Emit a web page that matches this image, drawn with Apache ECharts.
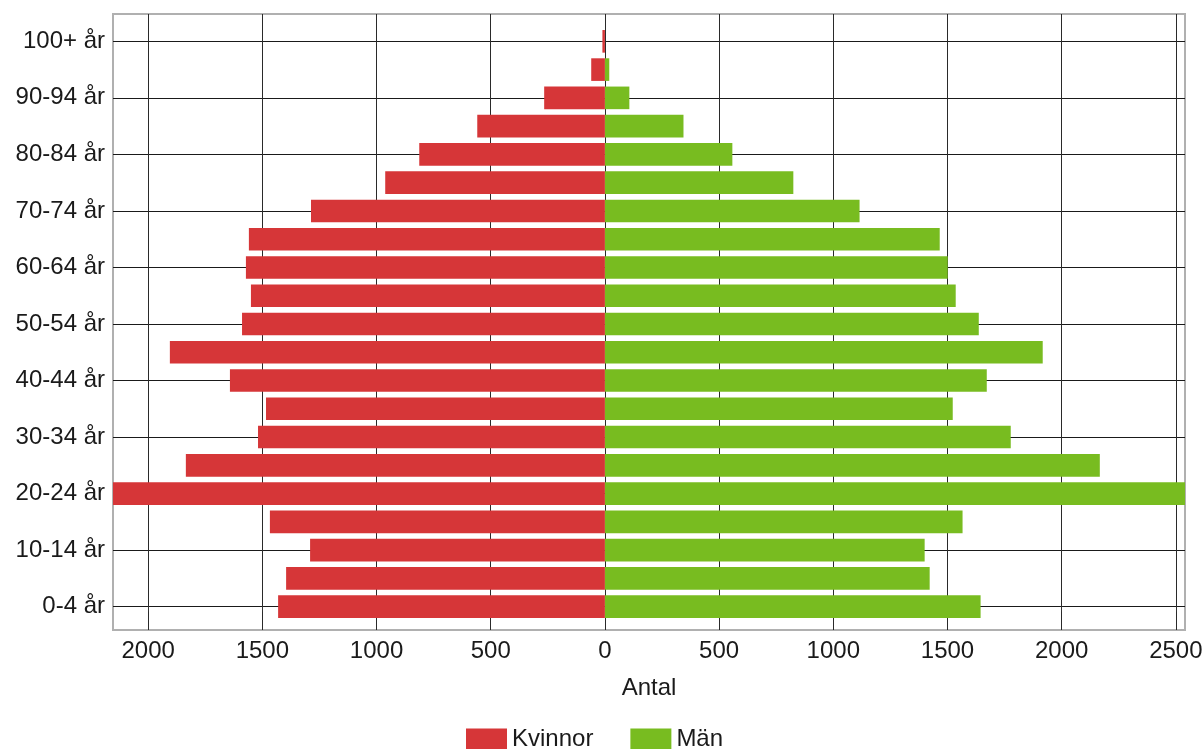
<!DOCTYPE html>
<html lang="sv">
<head>
  <meta charset="UTF-8" />
  <title>Befolkningspyramid</title>
  <script src="https://cdn.jsdelivr.net/npm/echarts@6.0.0/dist/echarts.min.js"></script>
  <style>
    body { margin: 0; background: #fff; overflow: hidden; }
    #main { width: 1203px; height: 749px; }
  </style>
</head>
<body>
  <div id="main"></div>
  <script>
    // age groups, bottom to top
    const ageGroups = ['0-4 år', '5-9 år', '10-14 år', '15-19 år', '20-24 år', '25-29 år', '30-34 år',
      '35-39 år', '40-44 år', '45-49 år', '50-54 år', '55-59 år', '60-64 år', '65-69 år', '70-74 år',
      '75-79 år', '80-84 år', '85-89 år', '90-94 år', '95-99 år', '100+ år'];
    const women = [1431, 1396, 1291, 1467, 2154, 1835, 1519, 1484, 1642, 1905, 1589,
      1550, 1572, 1559, 1287, 962, 813, 559, 266, 60, 11];
    const men = [1645, 1422, 1400, 1566, 2540, 2167, 1777, 1523, 1672, 1917, 1637,
      1536, 1501, 1466, 1115, 825, 558, 344, 107, 19, 0];

    const RED = '#d63638';
    const GREEN = '#78bc20';
    const FONT = '"Liberation Sans", Arial, Helvetica, sans-serif';
    const FS = 24;

    // frame of the plot and the band area of the categories
    const frameTop = 14, frameBottom = 630;
    const bandTop = 27.2, bandBottom = 620.8;
    const band = (bandBottom - bandTop) / ageGroups.length;
    const xMin = -Math.max(...women);
    const xMax = Math.max(...men);

    const chart = echarts.init(document.getElementById('main'));

    const option = {
      backgroundColor: '#fff',
      animation: false,
      textStyle: { fontFamily: FONT },
      legend: {
        data: ['Kvinnor', 'Män'],
        left: 466,
        top: 727,
        padding: 0,
        icon: 'rect',
        itemWidth: 41,
        itemHeight: 21,
        itemGap: 37,
        textStyle: { fontSize: FS, color: '#1a1a1a', fontFamily: FONT }
      },
      grid: [
        {
          left: 113, right: 18, top: frameTop, bottom: 749 - frameBottom,
          show: true, borderColor: '#b0b0b0', borderWidth: 2,
          outerBoundsMode: 'none'
        },
        {
          left: 113, right: 18, top: bandTop, bottom: 749 - bandBottom,
          outerBoundsMode: 'none'
        }
      ],
      xAxis: [
        {
          gridIndex: 0,
          type: 'value',
          min: xMin,
          max: xMax,
          splitNumber: 10,
          name: 'Antal',
          nameLocation: 'middle',
          nameGap: 46,
          nameTextStyle: { fontSize: FS, color: '#1a1a1a', fontFamily: FONT },
          axisLine: { show: false },
          axisTick: { show: true, length: 5, lineStyle: { color: '#333' } },
          axisLabel: {
            fontSize: FS, color: '#1a1a1a', margin: 9, fontFamily: FONT,
            showMinLabel: false, showMaxLabel: false,
            formatter: v => (Math.round(v) % 500 === 0 ? String(Math.abs(v)) : '')
          },
          splitLine: {
            show: true, showMinLine: false, showMaxLine: false,
            lineStyle: { color: '#2a2a2a', width: 1 }
          }
        },
        {
          gridIndex: 1,
          type: 'value',
          min: xMin,
          max: xMax,
          show: false
        }
      ],
      yAxis: [
        {
          // horizontal lines at every other age group
          gridIndex: 0,
          type: 'value',
          min: -0.5 - (frameBottom - bandBottom) / band,
          max: ageGroups.length - 0.5 + (bandTop - frameTop) / band,
          splitNumber: 10,
          axisLine: { show: false },
          axisTick: { show: false },
          axisLabel: { show: false },
          splitLine: {
            show: true, showMinLine: false, showMaxLine: false,
            lineStyle: { color: '#1a1a1a', width: 1 }
          }
        },
        {
          gridIndex: 1,
          type: 'category',
          data: ageGroups,
          axisLine: { show: false },
          axisTick: { show: true, alignWithLabel: true, interval: 1, length: 4, lineStyle: { color: '#333' } },
          axisLabel: { interval: 1, fontSize: FS, color: '#1a1a1a', margin: 8, fontFamily: FONT },
          splitLine: { show: false }
        }
      ],
      series: [
        {
          name: 'Kvinnor',
          type: 'bar',
          xAxisIndex: 1,
          yAxisIndex: 1,
          stack: 'pyramid',
          barCategoryGap: '20%',
          itemStyle: { color: RED },
          data: women.map(v => -v)
        },
        {
          name: 'Män',
          type: 'bar',
          xAxisIndex: 1,
          yAxisIndex: 1,
          stack: 'pyramid',
          barCategoryGap: '20%',
          itemStyle: { color: GREEN },
          data: men
        }
      ]
    };

    chart.setOption(option);
  </script>
</body>
</html>
